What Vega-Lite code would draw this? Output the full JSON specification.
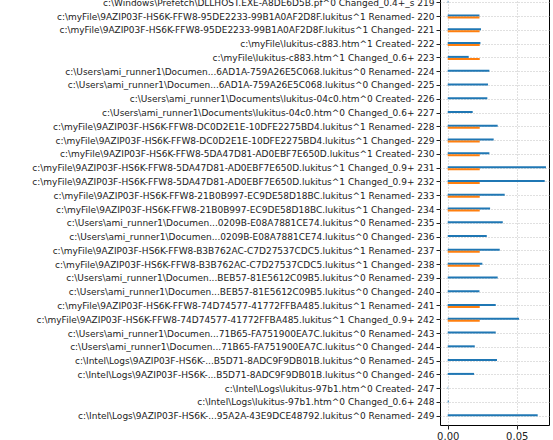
{
  "$schema": "https://vega.github.io/schema/vega-lite/v6.json",
  "autosize": "none",
  "width": 109,
  "height": 431,
  "padding": {"left": 440, "top": -6, "right": 4, "bottom": 15},
  "config": {
    "font": "DejaVu Sans",
    "view": {"stroke": "#000", "strokeWidth": 1},
    "axis": {
      "labelFont": "DejaVu Sans",
      "labelColor": "#222",
      "tickColor": "#222",
      "domain": false,
      "gridColor": "#b0b0b0",
      "gridDash": [1, 2],
      "gridWidth": 0.8,
      "tickSize": 4,
      "title": null
    }
  },
  "data": {
    "values": [
      {"label": "c:\\Windows\\Prefetch\\DLLHOST.EXE-A8DE6D5B.pf^0 Changed_0.4+_s 219", "series": "a", "value": 0.0004},
      {"label": "c:\\myFile\\9AZIP03F-HS6K-FFW8-95DE2233-99B1A0AF2D8F.lukitus^1 Renamed- 220", "series": "a", "value": 0.0230},
      {"label": "c:\\myFile\\9AZIP03F-HS6K-FFW8-95DE2233-99B1A0AF2D8F.lukitus^1 Renamed- 220", "series": "b", "value": 0.0230},
      {"label": "c:\\myFile\\9AZIP03F-HS6K-FFW8-95DE2233-99B1A0AF2D8F.lukitus^1 Changed- 221", "series": "a", "value": 0.0241},
      {"label": "c:\\myFile\\9AZIP03F-HS6K-FFW8-95DE2233-99B1A0AF2D8F.lukitus^1 Changed- 221", "series": "b", "value": 0.0231},
      {"label": "c:\\myFile\\lukitus-c883.htm^1 Created- 222", "series": "a", "value": 0.0237},
      {"label": "c:\\myFile\\lukitus-c883.htm^1 Created- 222", "series": "b", "value": 0.0232},
      {"label": "c:\\myFile\\lukitus-c883.htm^1 Changed_0.6+ 223", "series": "a", "value": 0.0152},
      {"label": "c:\\myFile\\lukitus-c883.htm^1 Changed_0.6+ 223", "series": "b", "value": 0.0232},
      {"label": "c:\\Users\\ami_runner1\\Documen...6AD1A-759A26E5C068.lukitus^0 Renamed- 224", "series": "a", "value": 0.0302},
      {"label": "c:\\Users\\ami_runner1\\Documen...6AD1A-759A26E5C068.lukitus^0 Changed- 225", "series": "a", "value": 0.0292},
      {"label": "c:\\Users\\ami_runner1\\Documents\\lukitus-04c0.htm^0 Created- 226", "series": "a", "value": 0.0287},
      {"label": "c:\\Users\\ami_runner1\\Documents\\lukitus-04c0.htm^0 Changed_0.6+ 227", "series": "a", "value": 0.0181},
      {"label": "c:\\myFile\\9AZIP03F-HS6K-FFW8-DC0D2E1E-10DFE2275BD4.lukitus^1 Renamed- 228", "series": "a", "value": 0.0362},
      {"label": "c:\\myFile\\9AZIP03F-HS6K-FFW8-DC0D2E1E-10DFE2275BD4.lukitus^1 Renamed- 228", "series": "b", "value": 0.0232},
      {"label": "c:\\myFile\\9AZIP03F-HS6K-FFW8-DC0D2E1E-10DFE2275BD4.lukitus^1 Changed- 229", "series": "a", "value": 0.0333},
      {"label": "c:\\myFile\\9AZIP03F-HS6K-FFW8-DC0D2E1E-10DFE2275BD4.lukitus^1 Changed- 229", "series": "b", "value": 0.0232},
      {"label": "c:\\myFile\\9AZIP03F-HS6K-FFW8-5DA47D81-AD0EBF7E650D.lukitus^1 Created- 230", "series": "a", "value": 0.0302},
      {"label": "c:\\myFile\\9AZIP03F-HS6K-FFW8-5DA47D81-AD0EBF7E650D.lukitus^1 Created- 230", "series": "b", "value": 0.0232},
      {"label": "c:\\myFile\\9AZIP03F-HS6K-FFW8-5DA47D81-AD0EBF7E650D.lukitus^1 Changed_0.9+ 231", "series": "a", "value": 0.0712},
      {"label": "c:\\myFile\\9AZIP03F-HS6K-FFW8-5DA47D81-AD0EBF7E650D.lukitus^1 Changed_0.9+ 231", "series": "b", "value": 0.0232},
      {"label": "c:\\myFile\\9AZIP03F-HS6K-FFW8-5DA47D81-AD0EBF7E650D.lukitus^1 Changed_0.9+ 232", "series": "a", "value": 0.0703},
      {"label": "c:\\myFile\\9AZIP03F-HS6K-FFW8-5DA47D81-AD0EBF7E650D.lukitus^1 Changed_0.9+ 232", "series": "b", "value": 0.0232},
      {"label": "c:\\myFile\\9AZIP03F-HS6K-FFW8-21B0B997-EC9DE58D18BC.lukitus^1 Renamed- 233", "series": "a", "value": 0.0413},
      {"label": "c:\\myFile\\9AZIP03F-HS6K-FFW8-21B0B997-EC9DE58D18BC.lukitus^1 Renamed- 233", "series": "b", "value": 0.0232},
      {"label": "c:\\myFile\\9AZIP03F-HS6K-FFW8-21B0B997-EC9DE58D18BC.lukitus^1 Changed- 234", "series": "a", "value": 0.0307},
      {"label": "c:\\myFile\\9AZIP03F-HS6K-FFW8-21B0B997-EC9DE58D18BC.lukitus^1 Changed- 234", "series": "b", "value": 0.0232},
      {"label": "c:\\Users\\ami_runner1\\Documen...0209B-E08A7881CE74.lukitus^0 Renamed- 235", "series": "a", "value": 0.0399},
      {"label": "c:\\Users\\ami_runner1\\Documen...0209B-E08A7881CE74.lukitus^0 Changed- 236", "series": "a", "value": 0.0283},
      {"label": "c:\\myFile\\9AZIP03F-HS6K-FFW8-B3B762AC-C7D27537CDC5.lukitus^1 Renamed- 237", "series": "a", "value": 0.0377},
      {"label": "c:\\myFile\\9AZIP03F-HS6K-FFW8-B3B762AC-C7D27537CDC5.lukitus^1 Renamed- 237", "series": "b", "value": 0.0232},
      {"label": "c:\\myFile\\9AZIP03F-HS6K-FFW8-B3B762AC-C7D27537CDC5.lukitus^1 Changed- 238", "series": "a", "value": 0.0251},
      {"label": "c:\\myFile\\9AZIP03F-HS6K-FFW8-B3B762AC-C7D27537CDC5.lukitus^1 Changed- 238", "series": "b", "value": 0.0232},
      {"label": "c:\\Users\\ami_runner1\\Documen...BEB57-81E5612C09B5.lukitus^0 Renamed- 239", "series": "a", "value": 0.0362},
      {"label": "c:\\Users\\ami_runner1\\Documen...BEB57-81E5612C09B5.lukitus^0 Changed- 240", "series": "a", "value": 0.0230},
      {"label": "c:\\myFile\\9AZIP03F-HS6K-FFW8-74D74577-41772FFBA485.lukitus^1 Renamed- 241", "series": "a", "value": 0.0348},
      {"label": "c:\\myFile\\9AZIP03F-HS6K-FFW8-74D74577-41772FFBA485.lukitus^1 Renamed- 241", "series": "b", "value": 0.0232},
      {"label": "c:\\myFile\\9AZIP03F-HS6K-FFW8-74D74577-41772FFBA485.lukitus^1 Changed_0.9+ 242", "series": "a", "value": 0.0517},
      {"label": "c:\\myFile\\9AZIP03F-HS6K-FFW8-74D74577-41772FFBA485.lukitus^1 Changed_0.9+ 242", "series": "b", "value": 0.0232},
      {"label": "c:\\Users\\ami_runner1\\Documen...71B65-FA751900EA7C.lukitus^0 Renamed- 243", "series": "a", "value": 0.0348},
      {"label": "c:\\Users\\ami_runner1\\Documen...71B65-FA751900EA7C.lukitus^0 Changed- 244", "series": "a", "value": 0.0196},
      {"label": "c:\\Intel\\Logs\\9AZIP03F-HS6K-...B5D71-8ADC9F9DB01B.lukitus^0 Renamed- 245", "series": "a", "value": 0.0357},
      {"label": "c:\\Intel\\Logs\\9AZIP03F-HS6K-...B5D71-8ADC9F9DB01B.lukitus^0 Changed- 246", "series": "a", "value": 0.0191},
      {"label": "c:\\Intel\\Logs\\lukitus-97b1.htm^0 Created- 247", "series": "a", "value": 0.0003},
      {"label": "c:\\Intel\\Logs\\lukitus-97b1.htm^0 Changed_0.6+ 248", "series": "a", "value": 0.0007},
      {"label": "c:\\Intel\\Logs\\9AZIP03F-HS6K-...95A2A-43E9DCE48792.lukitus^0 Renamed- 249", "series": "a", "value": 0.0652}
    ]
  },
  "mark": {"type": "bar", "clip": true},
  "encoding": {
    "y": {
      "field": "label",
      "type": "nominal",
      "sort": null,
      "scale": {"paddingInner": 0.71, "paddingOuter": 0.49},
      "axis": {"labelLimit": 600, "labelFontSize": 9, "labelPadding": 2, "grid": true}
    },
    "yOffset": {"field": "series", "type": "nominal", "sort": ["a", "b"]},
    "x": {
      "field": "value",
      "type": "quantitative",
      "scale": {"domain": [-0.0056, 0.0734], "nice": false, "zero": false},
      "axis": {"values": [0, 0.05], "format": ".2f", "labelFontSize": 10, "grid": true, "labelPadding": 2}
    },
    "x2": {"datum": 0},
    "color": {
      "field": "series",
      "type": "nominal",
      "scale": {"domain": ["a", "b"], "range": ["#1f77b4", "#ff7f0e"]},
      "legend": null
    }
  }
}
